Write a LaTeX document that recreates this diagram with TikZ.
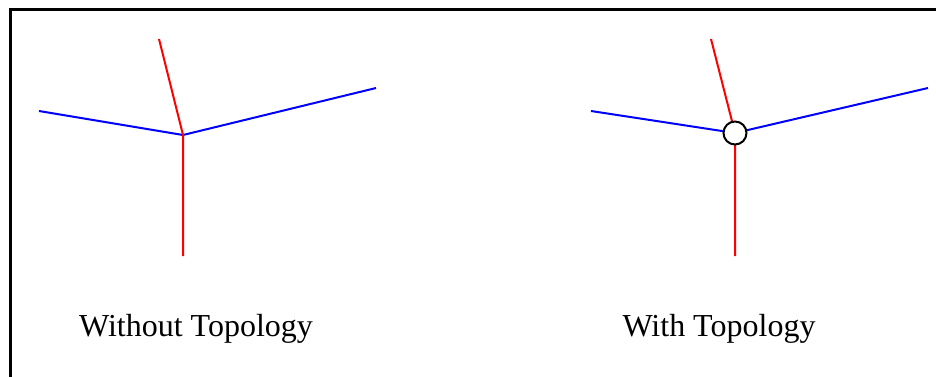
\documentclass[tikz,border=0pt]{standalone}
\usepackage{fontspec}
\setmainfont{Liberation Serif}
\begin{document}
\begin{tikzpicture}[x=1pt,y=-1pt,
  redline/.style={draw=red,line width=2pt},
  blueline/.style={draw=blue,line width=2pt},
  caption/.style={anchor=base,inner sep=0pt,font=\fontsize{32}{38}\selectfont},
  topo/.style={circle,draw=black,fill=white,line width=2pt,minimum size=23pt,inner sep=0pt}]
\useasboundingbox (0,0) rectangle (936,376);
\draw[line width=3pt] (10.5,9.5) rectangle (945,390);
% left
\coordinate (lj) at (183,135);
\coordinate (lu) at (159,39);
\coordinate (ll) at (39,111);
\coordinate (lr) at (376,88);
\coordinate (ld) at (183,256);
\draw[blueline] (ll) -- (lj) -- (lr);
\draw[redline] (lu) -- (lj) -- (ld);
\node[caption] (lt) at (196,336) {Without Topology};
% right
\coordinate (rj) at (735,133);
\coordinate (ru) at (711,39);
\coordinate (rl) at (591,111);
\coordinate (rr) at (928,88);
\coordinate (rd) at (735,256);
\draw[blueline] (rl) -- (rj) -- (rr);
\draw[redline] (ru) -- (rj) -- (rd);
\node[topo] (rc) at (rj) {};
\node[caption] (rt) at (719,336) {With Topology};
\end{tikzpicture}
\end{document}
